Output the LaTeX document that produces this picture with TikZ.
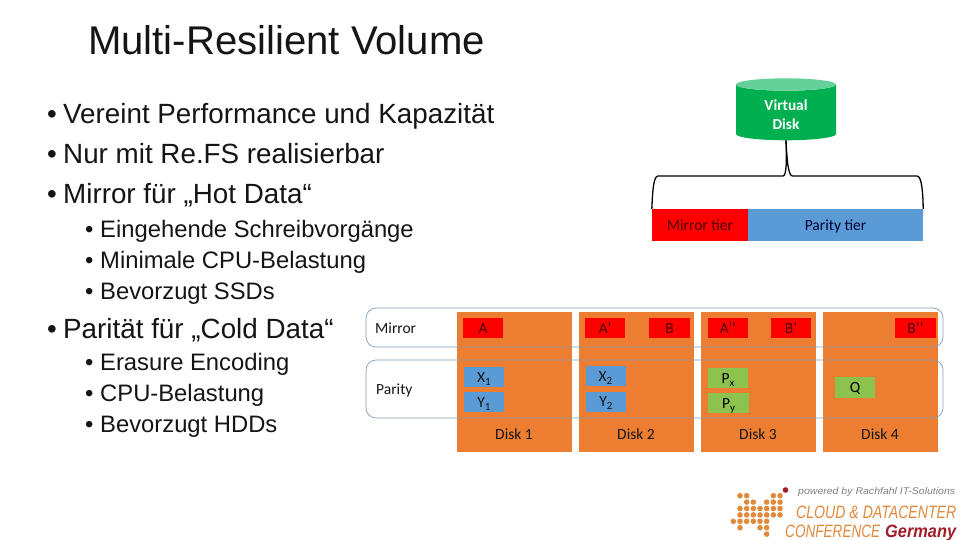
\documentclass[tikz,border=0pt]{standalone}
\usepackage{fontspec}
\usepackage{graphicx}
\setmainfont{Liberation Sans}
\newfontfamily\carl{Carlito}
\usetikzlibrary{shapes.geometric}
\definecolor{orng}{HTML}{ED7D31}
\definecolor{blu}{HTML}{5B9BD5}
\definecolor{grn}{HTML}{8CC34F}
\definecolor{cyl}{HTML}{00B050}
\definecolor{cyltop}{HTML}{66D09A}
\definecolor{outl}{HTML}{7F9DB5}
\definecolor{logoo}{HTML}{E08A3C}
\definecolor{logor}{HTML}{A01C28}
\definecolor{ink}{HTML}{151515}
\newcommand{\sbs}[1]{\raisebox{-3pt}{\fontsize{11}{12}\selectfont #1}}
\tikzset{
  x=1pt,y=-1pt,
  title/.style={anchor=base west,inner sep=0pt,font=\fontsize{40.1}{44}\selectfont,text=ink},
  lone/.style={anchor=base west,inner sep=0pt,font=\fontsize{27.8}{30}\selectfont,text=ink},
  ltwo/.style={anchor=base west,inner sep=0pt,font=\fontsize{23.8}{26}\selectfont,text=ink},
  pinned/.style={inner sep=0pt,text height=12pt,text depth=2pt,font=\carl\fontsize{15.5}{17}\selectfont},
  lab/.style={pinned,text=ink},
  disk/.style={fill=orng,minimum width=115pt,minimum height=140pt,inner sep=0pt},
  cellbox/.style={pinned,minimum width=40pt,minimum height=20pt,text=ink},
  redc/.style={cellbox,fill=red,text=black!70!red},
  bluec/.style={cellbox,fill=blu},
  grnc/.style={cellbox,fill=grn,text=black},
  band/.style={draw=outl,line width=0.7pt,rounded corners=10pt,minimum width=577pt,inner sep=0pt},
  dot/.style={fill=logoo,circle,inner sep=0pt,minimum size=5.6pt},
  logot/.style={anchor=base west,inner sep=0pt,font=\itshape\fontsize{17}{18}\selectfont,text=logoo},
  brace/.style={black,line width=1.3pt},
}
\begin{document}
\begin{tikzpicture}
\useasboundingbox (0,0) rectangle (960,540);
\fill[white] (0,0) rectangle (960,540);
\node[title] (t) at (88,55) {Multi-Resilient Volume};
\node[lone] (b1) at (47,124) {\makebox[16pt][l]{•}Vereint Performance und Kapazität};
\node[lone] (b2) at (47,164) {\makebox[16pt][l]{•}Nur mit Re.FS realisierbar};
\node[lone] (b3) at (47,204) {\makebox[16pt][l]{•}Mirror für „Hot Data“};
\node[ltwo] (c1) at (85,237) {\makebox[15pt][l]{•}Eingehende Schreibvorgänge};
\node[ltwo] (c2) at (85,268) {\makebox[15pt][l]{•}Minimale CPU-Belastung};
\node[ltwo] (c3) at (85,299) {\makebox[15pt][l]{•}Bevorzugt SSDs};
\node[lone] (b4) at (47,338) {\makebox[16pt][l]{•}Parität für „Cold Data“};
\node[ltwo] (d1) at (85,370) {\makebox[15pt][l]{•}Erasure Encoding};
\node[ltwo] (d2) at (85,401) {\makebox[15pt][l]{•}CPU-Belastung};
\node[ltwo] (d3) at (85,432) {\makebox[15pt][l]{•}Bevorzugt HDDs};
% virtual disk
\node[cylinder,shape border rotate=90,aspect=0.48,minimum width=100pt,minimum height=62pt,inner sep=0pt,
  cylinder uses custom fill,cylinder body fill=cyl,cylinder end fill=cyltop,
  font=\carl\fontsize{15.3}{19.5}\selectfont] (vd) at (786,112.5) {\phantom{Disk}};
\node[inner sep=0pt,text=white,align=center,font=\carl\bfseries\fontsize{15.3}{19.5}\selectfont] (vdl) at (786,114.5) {Virtual\\Disk};
% tiers
\node[pinned,fill=red,minimum width=96pt,minimum height=32pt,text=black!70!red] (mt) at (700,225) {Mirror tier};
\node[pinned,fill=blu,minimum width=175pt,minimum height=32pt,text=black!80!blue] (pt) at (835.5,225) {Parity tier};
\draw[brace] (mt.north west) .. controls (652.5,195) and (653,176) .. (658,176) -- (783,176)
  .. controls (786,176) and (787,165) .. (vd.south);
\draw[brace] (pt.north east) .. controls (923,195) and (922,176) .. (917,176) -- (792.5,176)
  .. controls (789,176) and (787,165) .. (vd.south);
% disks
\node[disk] (k1) at (514.5,382) {};
\node[disk] (k2) at (636.5,382) {};
\node[disk] (k3) at (758.5,382) {};
\node[disk] (k4) at (880.5,382) {};
\node[lab] (l1) at (514,434) {Disk 1};
\node[lab] (l2) at (636,434) {Disk 2};
\node[lab] (l3) at (758,434) {Disk 3};
\node[lab] (l4) at (880,434) {Disk 4};
% bands
\node[band,minimum height=39pt] (mb) at (654.5,327.5) {};
\node[band,minimum height=58pt] (pb) at (654.5,389) {};
\node[lab,anchor=west] (ml) at (375,328) {Mirror};
\node[lab,anchor=west] (pl) at (376,389) {Parity};
% cells
\node[redc] (a0) at (483,328) {A};
\node[redc] (a1) at (605,328) {A’};
\node[redc,minimum width=41pt] (b0) at (669.5,328) {B};
\node[redc] (a2) at (728,328) {A’’};
\node[redc] (b5) at (791,328) {B’};
\node[redc,minimum width=41pt] (b6) at (915.5,328) {B’’};
\node[bluec] (x1) at (484,377) {X\sbs{1}};
\node[bluec] (y1) at (484,402) {Y\sbs{1}};
\node[bluec] (x2) at (605.5,376) {X\sbs{2}};
\node[bluec] (y2) at (606,401.5) {Y\sbs{2}};
\node[grnc] (px) at (728,378) {P\sbs{x}};
\node[grnc,minimum width=41pt] (py) at (728.5,403) {P\sbs{y}};
\node[grnc,minimum height=21pt] (q) at (855,387.5) {Q};
% logo
\foreach \r/\cols in {0/{0,1,5,6},1/{1,2,4,5,6},2/{0,1,2,3,4,5,6},3/{0,1,2,3,4,5,6},4/{-1,0,1,2,3,4},5/{0,3,4},6/{4}}
  \foreach \c in \cols
    \node[dot] at (740+\c*6.67,495.7+\r*6.4) {};
\node[dot,fill=logor] (rd) at (785.5,490) {};
\node[logot,text=gray] (lg1) at (798,494) {\resizebox{157pt}{7pt}{powered by Rachfahl IT-Solutions}};
\node[logot] (lg2) at (796,518) {\resizebox{160pt}{12.5pt}{CLOUD \& DATACENTER}};
\node[logot] (lg3) at (785,537) {\resizebox{95pt}{12.5pt}{CONFERENCE}};
\node[logot,font=\itshape\bfseries\fontsize{17}{18}\selectfont,text=logor] (lg4) at (885,537) {\resizebox{71pt}{12.5pt}{Germany}};
\end{tikzpicture}
\end{document}
